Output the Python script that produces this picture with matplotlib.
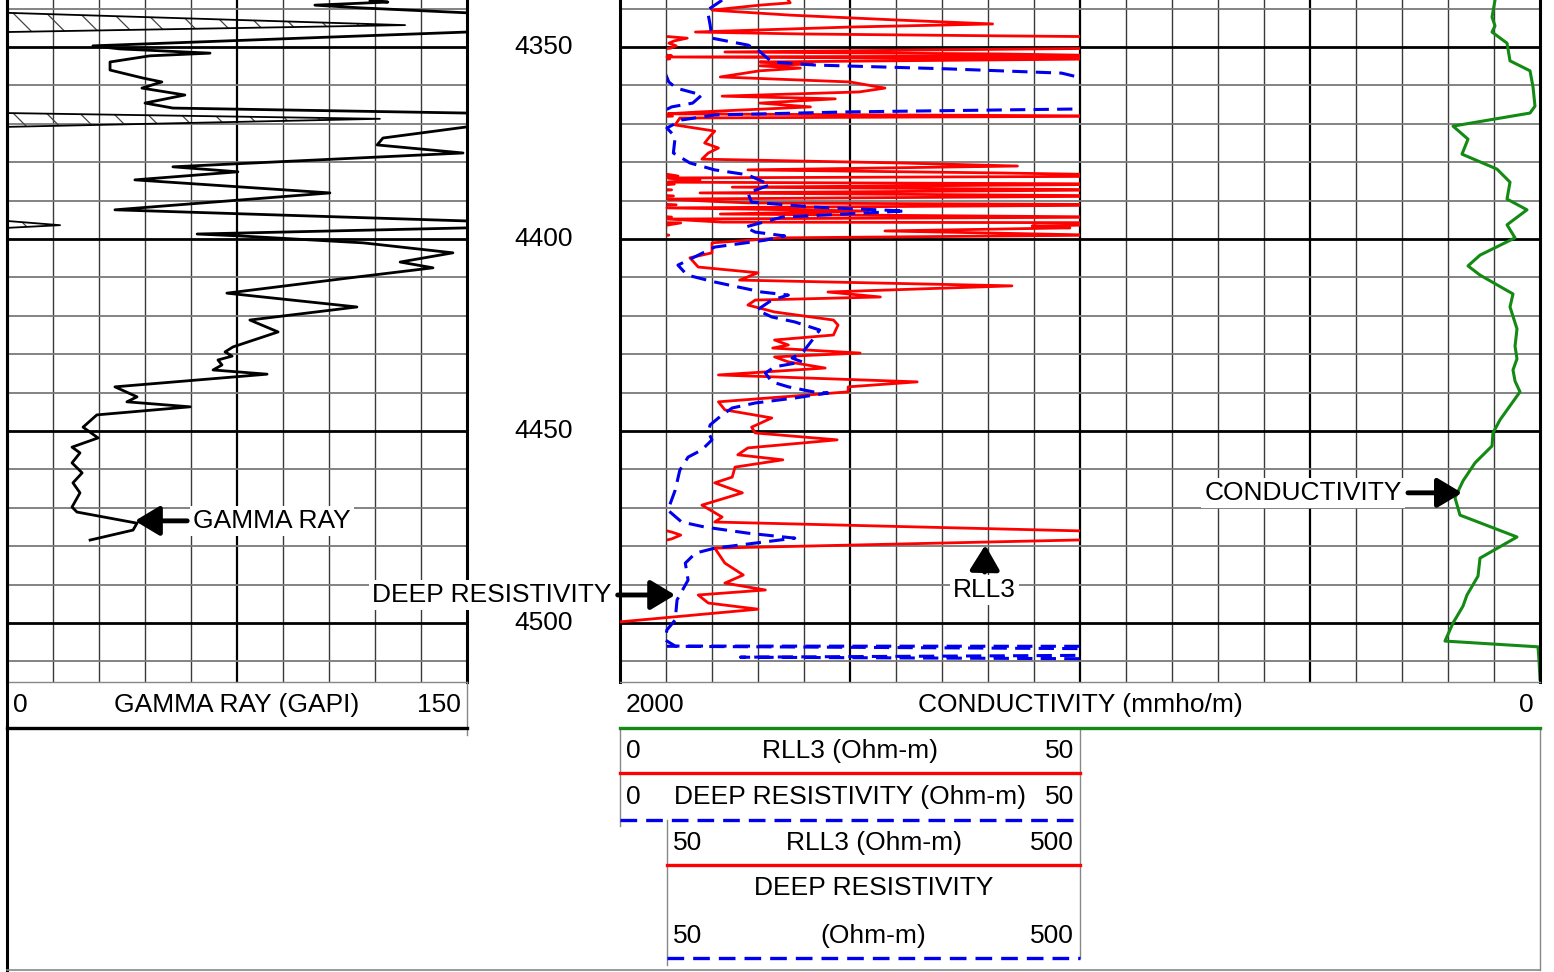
import matplotlib
matplotlib.use("Agg")
import matplotlib.pyplot as plt
import matplotlib.transforms as mtransforms
from matplotlib.lines import Line2D
import numpy as np

plt.rcParams['font.family'] = ['Liberation Sans', 'DejaVu Sans']
plt.rcParams['font.size'] = 19
plt.rcParams['hatch.linewidth'] = 0.9
plt.rcParams['hatch.color'] = '#333333'

W, H = 1554, 972
TOP, BOTTOM = 4337.76, 4515.36

# depth (m), value 
gamma_ray = np.array([
    (4337.8, 118.4), (4338.3, 124.2), (4339.1, 100.4), (4339.8, 115.1), (4341.1, 150.0),
    (4344.3, 279.8), (4346.1, 150.0), (4349.7, 28.0), (4350.5, 36.8), (4351.6, 66.2),
    (4352.3, 46.6), (4353.9, 33.6), (4356.0, 33.6), (4358.1, 44.4), (4359.1, 50.5),
    (4360.7, 44.0), (4362.5, 58.0), (4364.6, 45.0), (4365.9, 54.1), (4367.2, 150.0),
    (4368.7, 271.6), (4370.8, 150.0), (4373.7, 122.6), (4375.5, 120.7), (4377.6, 148.7),
    (4381.2, 54.1), (4382.5, 75.3), (4384.6, 41.7), (4388.0, 105.3), (4392.4, 35.2),
    (4395.3, 150.0), (4396.4, 167.3), (4397.1, 150.0), (4398.7, 62.0), (4399.2, 76.0),
    (4401.0, 116.1), (4403.6, 145.4), (4406.0, 128.2), (4407.5, 138.9), (4410.2, 110.9),
    (4414.1, 71.7), (4417.7, 114.1), (4421.1, 79.2), (4424.2, 88.4), (4428.1, 73.7),
    (4429.4, 71.1), (4430.5, 73.4), (4431.5, 68.8), (4432.8, 70.1), (4434.1, 67.2),
    (4435.2, 84.8), (4438.5, 35.2), (4441.1, 42.4), (4442.4, 39.1), (4443.7, 59.7),
    (4445.8, 29.3), (4449.0, 24.8), (4451.8, 29.7), (4454.2, 21.2), (4455.7, 23.8),
    (4458.3, 21.2), (4460.9, 24.5), (4463.5, 21.5), (4466.1, 23.8), (4469.8, 21.2),
    (4471.1, 22.8), (4474.0, 42.4), (4475.8, 41.1), (4478.4, 27.1),
])

rll3 = np.array([
    (4337.8, 18.3), (4338.5, 18.5), (4339.1, 15.2), (4340.4, 10.0), (4341.7, 18.5),
    (4343.0, 30.4), (4344.0, 40.5), (4344.8, 25.0), (4346.1, 8.2), (4346.6, 19.6),
    (4347.1, 41.3), (4347.7, 72.0), (4348.4, 58.0), (4349.0, 52.0), (4349.7, 60.0),
    (4350.3, 54.0), (4351.3, 11.4), (4351.8, 41.0), (4352.3, 55.0), (4352.6, 5.1),
    (4353.1, 53.0), (4353.9, 15.2), (4354.4, 20.9), (4354.9, 15.2), (4355.5, 19.6),
    (4356.2, 15.2), (4357.8, 10.9), (4359.1, 25.0), (4360.7, 28.8), (4361.7, 26.0),
    (4362.8, 11.1), (4363.5, 23.4), (4364.6, 15.2), (4365.6, 20.7), (4366.9, 8.7),
    (4367.4, 5.2), (4368.0, 56.0), (4368.5, 6.5), (4370.3, 6.0), (4371.9, 10.3),
    (4373.2, 9.8), (4375.0, 9.2), (4376.3, 10.7), (4377.6, 9.6), (4379.2, 8.9),
    (4380.2, 30.4), (4381.0, 43.2), (4382.0, 13.9), (4382.8, 41.3), (4383.6, 62.0),
    (4384.1, 5.2), (4384.6, 8.7), (4385.2, 5.2), (4385.7, 58.0), (4386.5, 12.2),
    (4387.2, 55.0), (4388.0, 8.7), (4388.8, 57.0), (4389.6, 5.2), (4390.1, 9.2),
    (4390.6, 13.9), (4391.1, 60.0), (4391.9, 5.1), (4392.7, 27.0), (4393.5, 10.9),
    (4394.3, 55.0), (4394.8, 5.2), (4395.6, 11.1), (4395.8, 65.0), (4396.6, 44.8),
    (4397.1, 48.9), (4397.9, 28.8), (4399.0, 52.0), (4399.7, 17.6), (4401.0, 10.0),
    (4403.6, 10.0), (4404.9, 7.6), (4407.3, 8.5), (4408.8, 15.0), (4410.7, 13.0),
    (4412.2, 42.6), (4413.8, 22.6), (4415.1, 28.3), (4415.9, 14.7), (4417.2, 13.9),
    (4419.0, 16.8), (4421.1, 23.2), (4422.4, 23.7), (4425.0, 23.2), (4426.3, 16.8),
    (4427.6, 18.3), (4428.4, 16.6), (4429.7, 26.1), (4430.7, 16.8), (4432.0, 18.3),
    (4433.6, 22.3), (4435.4, 10.7), (4437.2, 32.3), (4438.5, 24.8), (4439.8, 24.8),
    (4442.4, 10.7), (4444.5, 11.4), (4446.6, 16.5), (4449.0, 14.3), (4450.5, 14.7),
    (4452.3, 23.6), (4454.4, 13.9), (4456.2, 12.8), (4457.5, 17.7), (4459.4, 12.5),
    (4462.0, 12.2), (4463.5, 10.3), (4466.1, 13.3), (4468.5, 10.0), (4469.3, 8.9),
    (4472.4, 11.1), (4473.7, 10.3), (4476.3, 55.0), (4477.1, 65.0), (4478.1, 55.0),
    (4480.5, 10.3), (4484.4, 11.4), (4487.5, 13.4), (4489.6, 11.4), (4491.4, 15.8),
    (4492.7, 8.5), (4494.8, 9.6), (4496.4, 15.0), (4499.7, 0.0),
])

deep_res = np.array([
    (4337.8, 11.1), (4340.4, 9.5), (4344.3, 9.8), (4347.7, 10.0), (4349.5, 13.9),
    (4350.8, 15.0), (4353.9, 16.5), (4354.7, 21.2), (4355.7, 35.7), (4356.8, 48.0),
    (4359.1, 52.0), (4360.7, 60.0), (4362.5, 88.0), (4364.6, 78.0), (4365.6, 55.0),
    (4366.1, 51.0), (4366.9, 24.8), (4367.7, 10.3), (4369.0, 6.7), (4371.1, 5.1),
    (4373.4, 6.0), (4377.6, 5.8), (4380.2, 7.6), (4382.0, 10.3), (4383.3, 13.9),
    (4385.9, 16.3), (4388.0, 13.9), (4390.4, 14.3), (4391.7, 21.2), (4392.7, 31.0),
    (4393.2, 27.0), (4394.3, 17.6), (4396.9, 13.6), (4398.2, 14.7), (4399.2, 17.9),
    (4400.3, 15.8), (4402.1, 10.3), (4406.8, 6.3), (4409.4, 7.3), (4411.2, 10.3),
    (4413.8, 15.4), (4414.6, 18.3), (4415.9, 16.5), (4418.5, 14.9), (4420.3, 16.5),
    (4421.6, 19.0), (4423.7, 21.7), (4426.3, 20.9), (4429.4, 19.9), (4431.0, 18.7),
    (4432.0, 19.8), (4433.3, 16.8), (4434.9, 15.8), (4437.2, 16.5), (4438.5, 18.3),
    (4439.8, 21.0), (4440.1, 22.6), (4441.4, 19.0), (4442.7, 14.7), (4444.0, 12.2),
    (4445.8, 11.1), (4448.4, 9.8), (4450.3, 9.6), (4452.3, 10.0), (4454.9, 8.9),
    (4456.8, 7.4), (4460.2, 6.5), (4465.4, 6.0), (4470.6, 5.2), (4473.7, 6.7),
    (4475.0, 9.2), (4476.6, 13.9), (4477.9, 19.0), (4480.5, 10.3), (4481.8, 8.2),
    (4484.4, 7.1), (4488.8, 7.4), (4494.0, 6.2), (4499.2, 6.0), (4501.8, 5.1),
    (4504.4, 4.9), (4506.0, 6.0), (4506.8, 600.0), (4508.3, 600.0), (4508.9, 130.0),
    (4509.4, 600.0), (4509.9, 600.0),
])

conductivity = np.array([
    (4337.8, 97.8), (4342.2, 104.3), (4344.5, 97.8), (4346.1, 104.3), (4349.0, 71.7),
    (4353.6, 65.2), (4356.2, 21.7), (4360.4, 15.2), (4365.4, 10.9), (4367.2, 21.7),
    (4370.6, 189.1), (4374.0, 156.5), (4377.9, 169.6), (4381.8, 93.5), (4385.2, 65.2),
    (4389.6, 71.7), (4392.4, 28.3), (4396.3, 71.7), (4399.7, 54.3), (4404.2, 130.4),
    (4407.0, 156.5), (4409.4, 130.4), (4414.3, 58.7), (4417.7, 65.2), (4423.4, 50.0),
    (4427.9, 54.3), (4431.2, 50.0), (4434.1, 58.7), (4437.0, 54.3), (4439.8, 43.5),
    (4447.1, 87.0), (4450.5, 102.2), (4453.9, 104.3), (4458.3, 141.3), (4463.0, 167.4),
    (4467.4, 184.8), (4471.9, 173.9), (4477.6, 50.0), (4483.1, 130.4), (4487.8, 134.8),
    (4492.7, 158.7), (4495.6, 167.4), (4500.0, 189.1), (4504.7, 206.5), (4506.2, 4.3),
    (4509.6, 2.2), (4514.6, 0.0),
])

depth_labels = [4350, 4400, 4450, 4500]
depth_major = [4350, 4400, 4450, 4500]
depth_minor = [d for d in range(4340, 4516, 10) if d % 50]

GR_MAX = 150
RED = '#ff0000'
BLUE = '#0000ee'
GREEN = '#138a13'
DASH = (0, (5, 2.7))

fig = plt.figure(figsize=(W / 100, H / 100), dpi=100)
fig.patch.set_facecolor('white')


def add_box(x0, y0, x1, y1, z=1):
    return fig.add_axes([x0 / W, 1 - y1 / H, (x1 - x0) / W, (y1 - y0) / H], zorder=z)


def style_track(ax, major_x, minor_x):
    ax.set_xticks(major_x)
    ax.set_xticks(minor_x, minor=True)
    ax.set_yticks(depth_major)
    ax.set_yticks(depth_minor, minor=True)
    ax.xaxis.grid(True, which='major', color='black', lw=1.6)
    ax.xaxis.grid(True, which='minor', color='#3a3a3a', lw=1.0)
    ax.yaxis.grid(True, which='major', color='black', lw=2.0)
    ax.yaxis.grid(True, which='minor', color='#7a7a7a', lw=1.3)
    ax.tick_params(which='both', length=0, labelbottom=False, labelleft=False)
    ax.set_axisbelow(True)
    ax.spines['top'].set_visible(False)
    ax.spines['bottom'].set_color('#888888')
    ax.spines['bottom'].set_linewidth(1.0)
    ax.spines['left'].set_linewidth(2.2)
    ax.spines['right'].set_linewidth(2.2)


def fig_line(xs, ys, color='#888888', lw=1.0, ls='-'):
    fig.add_artist(Line2D([x / W for x in xs], [1 - y / H for y in ys],
                          color=color, lw=lw, ls=ls, transform=fig.transFigure))


def header(x0, y0, x1, y1, rows, color, ls):
    ax = add_box(x0, y0, x1, y1, z=4)
    ax.set_axis_off()
    pad = 6 / (x1 - x0)
    for yr, left, mid, right in rows:
        if left:
            ax.text(pad, yr, left, ha='left', va='center', transform=ax.transAxes)
        if mid:
            ax.text(0.5, yr, mid, ha='center', va='center', transform=ax.transAxes)
        if right:
            ax.text(1 - pad, yr, right, ha='right', va='center', transform=ax.transAxes)
    ax.add_line(Line2D([0, 1], [0, 0], transform=ax.transAxes, color=color,
                       lw=2.4, ls=ls, clip_on=False))


arrow = dict(arrowstyle='-|>,head_length=0.75,head_width=0.45', color='black',
             lw=3.5, shrinkA=2, shrinkB=0, mutation_scale=20)
white = dict(boxstyle='square,pad=0.12', fc='white', ec='none')

# ---- gamma ray track
ax_gr = add_box(7, 0, 467, 682, z=1)
style_track(ax_gr, [75], [v for v in range(15, 150, 15) if v != 75])
ax_gr.set_xlim(0, GR_MAX)
ax_gr.set_ylim(BOTTOM, TOP)
gr_d, gr_v = gamma_ray[:, 0], gamma_ray[:, 1]
ax_gr.plot(gr_v, gr_d, color='black', lw=2.0)
wrap = gr_v - GR_MAX
ax_gr.plot(wrap, gr_d, color='black', lw=1.3)
ax_gr.fill_betweenx(gr_d, 0, wrap, where=wrap > 0, interpolate=True,
                    facecolor='none', edgecolor='#444444', hatch='\\', lw=0)
ax_gr.annotate('GAMMA RAY', xy=(41.7, 4473.4), xytext=(60.7, 4473.4),
               ha='left', va='center', arrowprops=arrow, bbox=white)

# ---- depth track
ax_dep = add_box(467, 0, 620, 682, z=1)
ax_dep.set_ylim(BOTTOM, TOP)
ax_dep.set_axis_off()
trans = mtransforms.blended_transform_factory(ax_dep.transAxes, ax_dep.transData)
for d in depth_labels:
    ax_dep.text(0.5, d, str(d), ha='center', va='center', transform=trans)

# ---- conductivity (spans resistivity + right track), carries the grid
ax_cd = add_box(620, 0, 1540, 682, z=1)
style_track(ax_cd, [1500, 1000, 500], [c for c in range(100, 2000, 100) if c % 500])
ax_cd.set_xlim(2000, 0)
ax_cd.set_ylim(BOTTOM, TOP)
ax_cd.plot(conductivity[:, 1], conductivity[:, 0], color=GREEN, lw=2.2)
ax_cd.annotate('CONDUCTIVITY', xy=(169.6, 4466.1), xytext=(300, 4466.1),
               ha='right', va='center', arrowprops=arrow, bbox=white)

# ---- resistivity 0-50
ax_rs = add_box(620, 0, 1080, 682, z=2)
ax_rs.set_xlim(0, 50)
ax_rs.set_ylim(BOTTOM, TOP)
ax_rs.set_axis_off()
ax_rs.patch.set_alpha(0)
ax_rs.plot(rll3[:, 1], rll3[:, 0], color=RED, lw=2.0)
ax_rs.plot(deep_res[:, 1], deep_res[:, 0], color=BLUE, lw=2.2, ls=DASH)
ax_rs.annotate('DEEP RESISTIVITY', xy=(6.0, 4492.7), xytext=(-0.9, 4492.7),
               ha='right', va='center', arrowprops=arrow, bbox=white)
ax_rs.annotate('RLL3', xy=(39.7, 4479.7), xytext=(39.6, 4491.4),
               ha='center', va='center', arrowprops=arrow, bbox=white)

# ---- resistivity backup 50-500
ax_rb = add_box(667, 0, 1080, 682, z=3)
ax_rb.set_xlim(50, 500)
ax_rb.set_ylim(BOTTOM, TOP)
ax_rb.set_axis_off()
ax_rb.patch.set_alpha(0)
ax_rb.plot(rll3[:, 1], rll3[:, 0], color=RED, lw=2.0)
ax_rb.plot(deep_res[:, 1], deep_res[:, 0], color=BLUE, lw=2.2, ls=DASH)

# ---- headers
header(7, 682, 467, 728, [(0.5, '0', 'GAMMA RAY (GAPI)', '150')], 'black', '-')
header(620, 682, 1540, 728, [(0.5, '2000', 'CONDUCTIVITY (mmho/m)', '0')], GREEN, '-')
header(620, 728, 1080, 773, [(0.5, '0', 'RLL3 (Ohm-m)', '50')], RED, '-')
header(620, 773, 1080, 820, [(0.5, '0', 'DEEP RESISTIVITY (Ohm-m)', '50')], BLUE, DASH)
header(667, 820, 1080, 865, [(0.5, '50', 'RLL3 (Ohm-m)', '500')], RED, '-')
header(667, 865, 1080, 958, [(0.75, '', 'DEEP RESISTIVITY', ''),
                             (0.24, '50', '(Ohm-m)', '500')], BLUE, DASH)

# ---- frame
fig_line([7, 7], [0, 970], color='black', lw=2.2)
fig_line([7, 1540], [970, 970], lw=1.2)
fig_line([1540, 1540], [728, 970])
fig_line([467, 467], [682, 735])
fig_line([620, 620], [728, 826])
fig_line([667, 667], [820, 965])
fig_line([1080, 1080], [728, 958])

fig.savefig('out.png', dpi=100, facecolor='white')
